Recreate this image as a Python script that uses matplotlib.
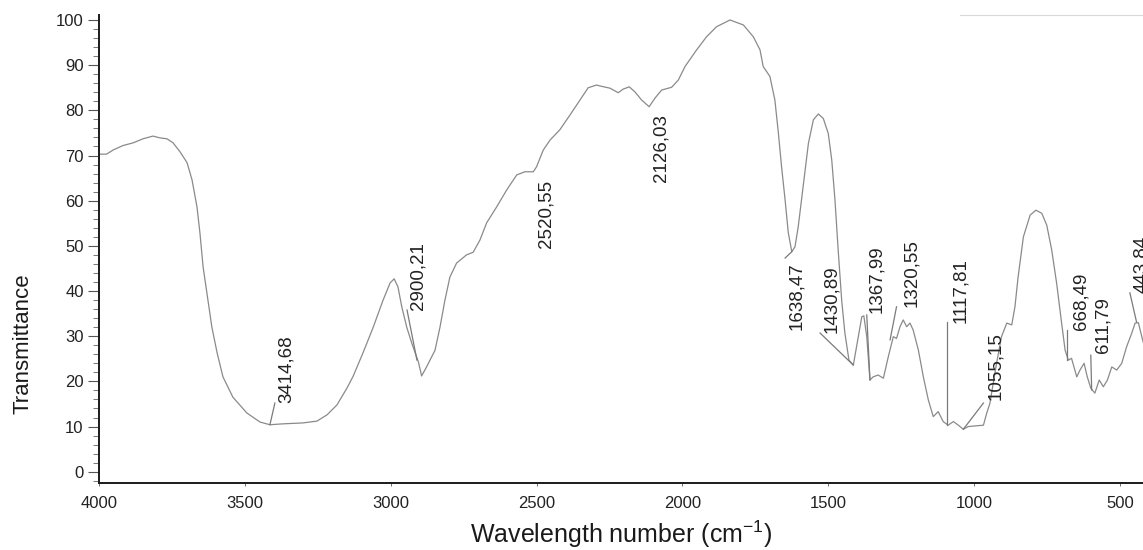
import matplotlib
matplotlib.use("Agg")
import matplotlib.pyplot as plt
from matplotlib.ticker import MultipleLocator

plt.rcParams["font.family"] = ["Liberation Sans", "DejaVu Sans"]

# IR spectrum: wavenumber (cm-1) and transmittance
wavenumber = [
    3997, 3974, 3952, 3918, 3883, 3849, 3815, 3791, 3767, 3746,
    3722, 3698, 3681, 3664, 3654, 3643, 3630, 3613, 3595, 3575,
    3541, 3493, 3448, 3414, 3369, 3301, 3253, 3218, 3184, 3150,
    3129, 3095, 3061, 3026, 3002, 2988, 2975, 2962, 2945, 2928,
    2905, 2894, 2877, 2848, 2831, 2814, 2797, 2774, 2740, 2717,
    2694, 2671, 2637, 2602, 2568, 2540, 2511, 2500, 2477, 2454,
    2420, 2385, 2351, 2323, 2294, 2283, 2248, 2220, 2203, 2182,
    2163, 2140, 2114, 2094, 2071, 2037, 2014, 1991, 1951, 1917,
    1883, 1837, 1791, 1757, 1734, 1723, 1700, 1683, 1671, 1660,
    1648, 1637, 1625, 1614, 1603, 1586, 1568, 1551, 1534, 1517,
    1500, 1488, 1477, 1466, 1454, 1443, 1429, 1414, 1397, 1385,
    1378, 1368, 1357, 1346, 1329, 1311, 1294, 1277, 1266, 1254,
    1243, 1231, 1220, 1209, 1191, 1174, 1157, 1140, 1123, 1106,
    1089, 1071, 1054, 1037, 1020, 1003, 968, 957, 946, 923,
    906, 888, 871, 860, 849, 831, 808, 788, 768, 751,
    734, 717, 700, 688, 677, 666, 648, 637, 623, 612,
    600, 586, 571, 557, 543, 528, 511, 494, 477, 460,
    448, 437, 425, 420,
]
transmittance = [
    70.3, 70.3, 71.2, 72.2, 72.8, 73.7, 74.3, 73.9, 73.7, 72.8,
    70.8, 68.4, 64.6, 58.6, 52.9, 45.3, 39.6, 32.0, 26.3, 21.0,
    16.5, 13.0, 11.0, 10.4, 10.6, 10.8, 11.2, 12.6, 14.8, 18.5,
    21.1, 26.3, 31.8, 38.0, 41.8, 42.7, 40.9, 36.5, 32.0, 28.5,
    24.3, 21.2, 23.2, 26.9, 32.0, 38.0, 43.1, 46.2, 48.0, 48.6,
    51.3, 55.1, 58.6, 62.4, 65.7, 66.4, 66.4, 67.5, 71.2, 73.4,
    75.7, 79.0, 82.3, 85.0, 85.6, 85.4, 84.9, 83.9, 84.7, 85.2,
    84.1, 82.3, 80.8, 82.7, 84.5, 85.1, 86.7, 89.7, 93.4, 96.3,
    98.5, 100.0, 98.9, 96.3, 93.4, 89.7, 87.5, 82.3, 75.0, 67.5,
    60.2, 52.9, 48.7, 49.8, 54.2, 63.1, 72.7, 77.9, 79.2, 78.2,
    74.9, 69.0, 60.2, 49.1, 38.0, 30.7, 24.7, 23.6, 29.9, 34.3,
    34.5, 29.9, 20.3, 21.0, 21.4, 20.7, 25.5, 29.9, 29.5, 32.1,
    33.6, 32.1, 32.9, 31.4, 26.9, 21.0, 15.9, 12.2, 13.3, 11.1,
    10.3, 11.1, 10.3, 9.4, 10.0, 10.1, 10.3, 12.9, 15.1, 24.0,
    29.9, 32.9, 32.5, 36.5, 43.2, 52.0, 56.8, 57.9, 57.2, 54.6,
    49.1, 41.7, 32.9, 26.9, 24.7, 25.1, 21.0, 22.5, 24.0, 21.0,
    18.5, 17.4, 20.3, 18.8, 20.3, 23.2, 22.5, 24.0, 27.7, 30.6,
    32.9, 33.0, 29.9, 28.6,
]

# peak labels: text anchor (bottom-left corner) and leader line ends
peak_labels = [
    "3414,68", "2900,21", "2520,55", "2126,03", "1638,47", "1430,89", "1367,99",
    "1320,55", "1117,81", "1055,15", "668,49", "611,79", "443,84",
]
label_wn = [3386, 2937, 2498, 2101, 1638, 1518, 1364, 1244, 1076, 956, 661, 586, 455]
label_t = [15.2, 35.8, 49.5, 64.1, 31.4, 30.7, 35.1, 36.5, 32.9, 15.9, 31.4, 26.3, 39.6]
leader_wn = [
    (3397, 3414), (2944, 2910), None, None, (1625, 1648), (1528, 1414), (1368, 1357),
    (1266, 1288), (1094, 1094), (968, 1037), (681, 681), (600, 597), (466, 443),
]
leader_t = [
    (15.2, 10.4), (35.8, 24.7), None, None, (48.7, 47.3), (30.7, 23.6), (34.7, 20.3),
    (36.5, 29.2), (33.1, 10.3), (15.2, 9.4), (31.4, 24.7), (25.8, 18.1), (39.6, 33.1),
]

x_ticks = [4000, 3500, 3000, 2500, 2000, 1500, 1000, 500]
y_ticks = [0, 10, 20, 30, 40, 50, 60, 70, 80, 90, 100]

fig = plt.figure(figsize=(11.43, 5.5), dpi=100)
ax = fig.add_axes([0.0866, 0.1218, 0.9134, 0.8509])

ax.plot(wavenumber, transmittance, color="#8a8a8a", lw=0.9)

for text, x, y, lx, ly in zip(peak_labels, label_wn, label_t, leader_wn, leader_t):
    if lx is not None:
        ax.plot(lx, ly, color="#7a7a7a", lw=0.9)
    ax.text(x, y, text, rotation=90, rotation_mode="anchor", ha="left", va="top",
            fontsize=13.5, color="#222222", clip_on=False)

# faint line along the top right edge of the scan
ax.plot([1048, 421], [101.1, 101.1], color="#d8d8d8", lw=0.8, clip_on=False)

ax.set_xlim(4000, 421)
ax.set_ylim(-2.5, 101.1)
ax.set_xticks(x_ticks)
ax.set_yticks(y_ticks)
ax.yaxis.set_minor_locator(MultipleLocator(2))

for side in ["top", "right"]:
    ax.spines[side].set_visible(False)
for side in ["left", "bottom"]:
    ax.spines[side].set_linewidth(1.4)
    ax.spines[side].set_color("#1a1a1a")

ax.tick_params(axis="y", which="major", length=8, width=0.8, color="#555555",
               labelsize=12, labelcolor="#222222", pad=3)
ax.tick_params(axis="y", which="minor", length=4, width=0.7, color="#777777")
ax.tick_params(axis="x", which="major", length=2, width=0.6, color="#555555",
               labelsize=12, labelcolor="#222222", pad=7)

ax.set_xlabel(r"Wavelength number (cm$^{\mathregular{-1}}$)", fontsize=18,
              color="#1a1a1a", labelpad=6)
ax.set_ylabel("Transmittance", fontsize=16, color="#1a1a1a")
ax.yaxis.set_label_coords(-0.063, 0.297)

fig.savefig("out.png", dpi=100, facecolor="white")
